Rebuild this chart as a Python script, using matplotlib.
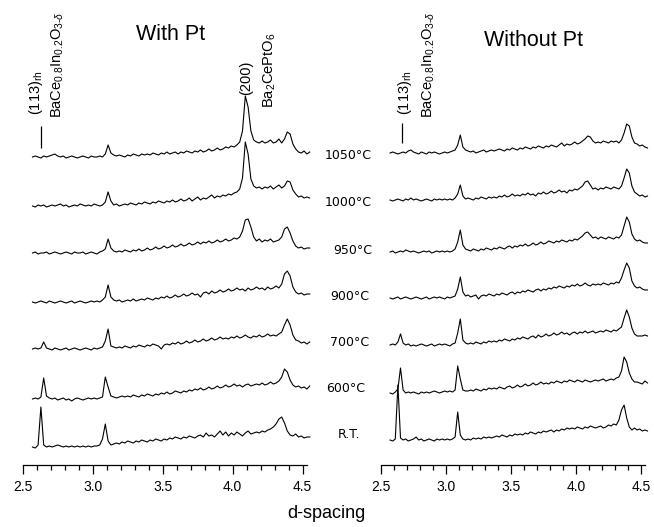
import numpy as np
import matplotlib
matplotlib.use("Agg")
import matplotlib.pyplot as plt
from matplotlib.ticker import MultipleLocator

plt.rcParams['mathtext.fontset'] = 'custom'
plt.rcParams['mathtext.rm'] = 'Liberation Sans'
plt.rcParams['mathtext.it'] = 'Liberation Sans:italic'
plt.rcParams['mathtext.bf'] = 'Liberation Sans:bold'

# ---------------- data ----------------
d_spacing = np.round(2.57 + 0.02 * np.arange(100), 2)
temperatures = ["1050°C", "1000°C", "950°C", "900°C", "700°C", "600°C", "R.T."]
x_ticks = [2.5, 3.0, 3.5, 4.0, 4.5]

with_pt_1050 = [0, 1, 0, -1, 1, 0, 1, 2, 3, 1,
                0, 1, -1, 0, 1, 0, -1, 0, 1, 0,
                -1, 1, 0, 0, 1, 0, 3, 12, 4, 2,
                1, 2, 1, 0, 2, 1, 3, 2, 1, 3,
                2, 3, 2, 4, 3, 2, 4, 3, 5, 3,
                4, 5, 3, 5, 4, 6, 5, 4, 6, 5,
                7, 5, 6, 8, 6, 7, 9, 7, 8, 10,
                9, 11, 10, 12, 15, 26, 61, 50, 26, 17,
                15, 14, 16, 14, 15, 17, 14, 15, 18, 14,
                18, 25, 23, 13, 8, 5, 4, 6, 3, 5]
with_pt_1000 = [0, -1, 1, 0, 1, -1, 0, 1, 0, 1,
                2, 0, 1, -1, 0, 1, 0, 2, 1, 0,
                1, 0, 2, 1, 0, 1, 4, 14, 5, 1,
                2, 0, 1, 2, 1, 3, 2, 1, 3, 2,
                4, 3, 2, 4, 3, 5, 4, 3, 5, 4,
                6, 4, 5, 7, 5, 6, 8, 5, 7, 9,
                6, 8, 7, 9, 11, 8, 10, 9, 11, 10,
                12, 11, 13, 14, 17, 28, 64, 52, 27, 20,
                18, 19, 17, 19, 18, 20, 17, 19, 21, 18,
                20, 25, 24, 16, 12, 9, 10, 8, 9, 8]
with_pt_950 = [0, 1, -1, 0, 0, 1, -1, 0, 1, 0,
               -1, 0, 1, 0, -1, 1, 0, 0, 1, -1,
               0, 1, 0, -1, 1, 2, 4, 14, 5, 2,
               1, 2, 1, 3, 2, 1, 3, 2, 4, 2,
               3, 5, 3, 4, 6, 4, 5, 7, 5, 6,
               8, 6, 7, 9, 7, 8, 10, 8, 9, 11,
               9, 11, 10, 12, 10, 11, 13, 11, 12, 14,
               12, 13, 15, 14, 16, 22, 33, 34, 26, 16,
               12, 14, 11, 13, 12, 14, 11, 12, 13, 16,
               24, 26, 20, 12, 7, 5, 6, 4, 5, 5]
with_pt_900 = [0, -1, 0, 1, 0, -1, 1, 0, -1, 0,
               1, 0, -1, 0, 1, -1, 0, 1, 0, -1,
               0, 1, 0, 1, 0, 2, 5, 17, 5, 2,
               1, 2, 0, 1, 2, 1, 3, 1, 2, 3,
               2, 4, 3, 2, 4, 3, 5, 4, 6, 4,
               5, 7, 5, 6, 8, 6, 7, 9, 7, 8,
               5, 9, 10, 8, 11, 9, 10, 12, 10, 11,
               13, 11, 12, 14, 12, 13, 11, 14, 12, 13,
               15, 13, 14, 12, 15, 13, 14, 16, 14, 18,
               28, 31, 26, 15, 10, 8, 9, 7, 8, 8]
with_pt_700 = [0, 1, 0, 1, 7, 1, 0, -1, 1, 0,
               -1, 0, 1, -1, 0, 1, 0, -1, 0, 1,
               0, -1, 1, 0, 1, 2, 8, 20, 3, 2,
               1, 2, 1, 3, 2, 1, 3, 2, 4, 3,
               2, 4, 3, 5, 4, 3, 0, 4, 5, 4,
               6, 5, 7, 5, 6, 8, 6, 7, 9, 7,
               8, 10, 8, 9, 11, 9, 10, 12, 10, 11,
               10, 12, 11, 13, 11, 12, 14, 12, 11, 13,
               12, 14, 12, 13, 15, 13, 14, 13, 15, 17,
               24, 30, 24, 14, 9, 8, 6, 7, 5, 7]
with_pt_600 = [0, 1, 0, 2, 21, 3, 1, 0, 1, -1,
               0, 1, -1, 0, -2, 0, 1, 0, -1, 0,
               1, 0, 1, 0, 1, 2, 22, 12, 3, 2,
               1, 2, 3, 2, 3, 2, 4, 3, 2, 4,
               3, 5, 4, 3, 5, 4, 6, 5, 7, 5,
               6, 8, 7, 6, 8, 7, 9, 8, 10, 9,
               11, 9, 10, 12, 10, 11, 13, 11, 12, 14,
               12, 13, 15, 13, 14, 12, 14, 15, 13, 14,
               15, 14, 16, 14, 15, 17, 15, 16, 18, 22,
               30, 27, 19, 14, 12, 13, 11, 12, 10, 13]
with_pt_rt = [0, -1, 2, 40, 2, 0, 1, 0, 1, 2,
              1, 0, 1, 0, 1, 0, 1, 0, 1, 0,
              1, 0, 1, 1, 2, 8, 23, 6, 2, 3,
              4, 3, 5, 4, 6, 5, 4, 6, 5, 7,
              6, 5, 7, 6, 8, 7, 6, 8, 7, 9,
              8, 10, 9, 8, 10, 9, 11, 10, 9, 11,
              12, 10, 14, 11, 12, 10, 13, 16, 12, 15,
              11, 14, 12, 15, 13, 11, 14, 16, 13, 14,
              15, 14, 16, 15, 17, 18, 20, 23, 28, 30,
              24, 16, 12, 11, 13, 10, 11, 9, 10, 10]

without_pt_1050 = [0, 1, 0, -1, 0, 1, 0, 2, 3, 1,
                   0, -1, 1, 0, -1, 1, 0, 1, 0, -1,
                   0, 1, 0, 1, 2, 3, 8, 18, 6, 3,
                   2, 1, 2, 0, 1, 2, 3, 1, 2, 3,
                   2, 3, 4, 3, 2, 4, 3, 5, 4, 3,
                   5, 4, 6, 5, 4, 6, 5, 7, 6, 5,
                   7, 6, 8, 7, 6, 8, 10, 7, 9, 8,
                   9, 11, 9, 10, 12, 14, 17, 16, 12, 10,
                   11, 10, 12, 11, 10, 12, 11, 12, 10, 13,
                   20, 29, 27, 16, 10, 9, 7, 8, 6, 5]
without_pt_1000 = [0, -1, 0, 1, 0, -1, 1, 0, 2, 0,
                   1, 0, -1, 0, 1, 0, -1, 1, 0, 1,
                   0, 1, 0, 1, 0, 2, 6, 15, 4, 1,
                   2, 1, 0, 2, 1, 3, 2, 1, 3, 2,
                   3, 2, 4, 3, 5, 3, 4, 6, 4, 5,
                   4, 6, 5, 7, 5, 6, 4, 7, 6, 8,
                   6, 7, 9, 7, 8, 10, 8, 9, 7, 10,
                   9, 11, 10, 12, 14, 18, 19, 15, 11, 12,
                   10, 12, 11, 13, 12, 11, 13, 12, 11, 14,
                   22, 31, 27, 14, 8, 6, 4, 5, 3, 4]
without_pt_950 = [0, 1, -1, 0, 1, 0, 2, 1, 0, 1,
                  0, -1, 0, 1, 0, 1, -1, 0, 1, 0,
                  1, 0, 1, 0, 1, 3, 10, 22, 7, 3,
                  2, 1, 3, 2, 1, 3, 2, 4, 3, 2,
                  4, 3, 5, 4, 3, 5, 6, 4, 6, 5,
                  7, 6, 8, 6, 7, 9, 7, 8, 10, 8,
                  9, 11, 10, 9, 11, 10, 12, 11, 10, 12,
                  11, 13, 12, 14, 16, 19, 20, 17, 14, 15,
                  13, 15, 14, 13, 15, 14, 13, 15, 14, 17,
                  26, 35, 30, 18, 13, 11, 12, 10, 9, 9]
without_pt_900 = [0, -1, 0, 1, -1, 0, 1, 0, -1, 0,
                  1, 0, -1, 0, 1, -1, 0, 1, 0, 1,
                  0, -1, 1, 0, 1, 2, 9, 21, 6, 2,
                  3, 1, 2, 3, -1, 2, 3, 2, 4, 3,
                  2, 4, 3, 5, 4, 3, 5, 6, 4, 6,
                  5, 7, 6, 8, 7, 6, 8, 9, 7, 9,
                  8, 10, 9, 11, 10, 12, 11, 10, 12, 11,
                  13, 12, 14, 12, 13, 15, 13, 12, 14, 13,
                  14, 13, 15, 14, 13, 15, 14, 16, 15, 20,
                  28, 35, 30, 17, 12, 10, 11, 9, 8, 8]
without_pt_700 = [0, 1, 0, 3, 11, 2, 0, 1, -1, 0,
                  -1, 0, 1, 0, -1, 0, 1, -1, 0, 1,
                  0, 1, 0, -1, 1, 2, 12, 26, 5, 2,
                  1, 2, 1, 3, 2, 1, 3, 2, 4, 3,
                  4, 3, 5, 4, 6, 5, 4, 6, 5, 7,
                  6, 8, 7, 6, 8, 9, 7, 10, 8, 9,
                  11, 9, 10, 12, 10, 11, 13, 11, 12, 10,
                  12, 13, 11, 13, 12, 14, 12, 13, 14, 12,
                  13, 14, 13, 15, 14, 13, 15, 14, 16, 18,
                  27, 35, 28, 17, 11, 9, 9, 9, 10, 9]
without_pt_600 = [0, -1, 1, 4, 25, 3, 0, 1, 0, 1,
                  0, -1, 1, 0, 1, 0, 1, 2, 1, 0,
                  1, 2, 1, 2, 1, 3, 27, 14, 3, 2,
                  2, 3, 2, 4, 3, 2, 4, 3, 5, 4,
                  5, 4, 6, 5, 4, 6, 7, 5, 6, 8,
                  6, 7, 9, 7, 8, 10, 8, 9, 11, 9,
                  10, 9, 11, 10, 12, 11, 10, 12, 11, 13,
                  12, 11, 13, 12, 11, 13, 12, 11, 12, 13,
                  12, 13, 14, 12, 13, 14, 13, 15, 16, 22,
                  36, 31, 20, 14, 11, 11, 10, 9, 12, 10]
without_pt_rt = [0, -1, 1, 55, 2, 0, 1, -1, 0, 1,
                 3, 0, 1, -1, 0, 1, 0, -1, 1, 0,
                 1, 0, 1, 0, 1, 3, 28, 5, 1, 0,
                 1, 0, 2, 1, 2, 1, 3, 2, 3, 2,
                 3, 4, 3, 5, 4, 3, 5, 4, 6, 5,
                 6, 5, 7, 6, 8, 7, 6, 8, 7, 9,
                 8, 9, 10, 8, 10, 9, 11, 10, 12, 11,
                 12, 11, 13, 12, 11, 13, 12, 14, 13, 12,
                 13, 14, 12, 13, 15, 14, 16, 15, 20, 30,
                 35, 22, 13, 10, 12, 10, 11, 9, 10, 9]

with_pt = [with_pt_1050, with_pt_1000, with_pt_950, with_pt_900,
           with_pt_700, with_pt_600, with_pt_rt]
without_pt = [without_pt_1050, without_pt_1000, without_pt_950, without_pt_900,
              without_pt_700, without_pt_600, without_pt_rt]

# vertical stacking offsets of the patterns (arbitrary intensity units)
with_pt_offsets = [370, 321, 274, 225, 178, 128, 80]
without_pt_offsets = [374, 327, 275, 229, 182, 134, 87]

# ---------------- layout ----------------
W, H = 654, 527
fig = plt.figure(figsize=(W / 100, H / 100), dpi=100)


def fx(x):
    return x / W


def fy(y):
    return 1 - y / H


SANS = "Liberation Sans"
ax_bottom_px = 465
axL = fig.add_axes([fx(22.7), 1 - ax_bottom_px / H, 2.06 * 140 / W, ax_bottom_px / H])
axR = fig.add_axes([fx(381), 1 - ax_bottom_px / H, 2.06 * 130 / W, ax_bottom_px / H])

for ax, traces, offs in [(axL, with_pt, with_pt_offsets), (axR, without_pt, without_pt_offsets)]:
    for tr, off in zip(traces, offs):
        ax.plot(d_spacing, np.asarray(tr) + off, color="black", lw=0.8, clip_on=False)
    ax.set_xlim(2.5, 4.56)
    ax.set_ylim(H - ax_bottom_px, H)
    for s in ["top", "left", "right"]:
        ax.spines[s].set_visible(False)
    ax.spines["bottom"].set_bounds(2.5, 4.53)
    ax.spines["bottom"].set_linewidth(0.9)
    ax.set_yticks([])
    ax.set_xticks(x_ticks)
    ax.set_xticklabels([f"{t:.1f}" for t in x_ticks], fontfamily=SANS, fontsize=10)
    ax.xaxis.set_minor_locator(MultipleLocator(0.1))
    ax.tick_params(axis="x", which="major", direction="out", length=6.5, width=0.9, pad=4)
    ax.tick_params(axis="x", which="minor", direction="out", length=3.6, width=0.9)
    ax.patch.set_visible(False)

# marker lines for (113)rh reflection
axL.vlines(2.63, 379, 401, color="black", lw=0.9)
axR.vlines(2.665, 384, 404, color="black", lw=0.9)

# titles
fig.text(fx(171), fy(35), "With Pt", ha="center", va="center", fontfamily=SANS, fontsize=15.5)
fig.text(fx(534), fy(40), "Without Pt", ha="center", va="center", fontfamily=SANS, fontsize=15.5)

# rotated peak annotations
rot_kw = dict(rotation=90, ha="center", va="bottom", fontfamily=SANS, fontsize=10.5)
fig.text(fx(36), fy(115), r"(113)$_{\mathrm{rh}}$", **rot_kw)
fig.text(fx(57.5), fy(118), r"BaCe$_{0.8}$In$_{0.2}$O$_{3\text{-}\delta}$", **rot_kw)
fig.text(fx(246), fy(95), "(200)", **rot_kw)
fig.text(fx(270), fy(108), r"Ba$_2$CePtO$_6$", **rot_kw)
fig.text(fx(405.5), fy(115), r"(113)$_{\mathrm{rh}}$", **rot_kw)
fig.text(fx(429), fy(118), r"BaCe$_{0.8}$In$_{0.2}$O$_{3\text{-}\delta}$", **rot_kw)

# temperature labels between the panels
label_right_x = [372, 372, 372, 369, 369, 365, 360]
label_y = [155, 203, 250, 297, 343, 389, 435]
for t, lx, ly in zip(temperatures, label_right_x, label_y):
    fig.text(fx(lx), fy(ly), t, ha="right", va="center", fontfamily="DejaVu Sans", fontsize=9)

fig.text(fx(326), fy(514), "d-spacing", ha="center", va="center", fontfamily=SANS, fontsize=13)

fig.savefig("out.png", dpi=100)
